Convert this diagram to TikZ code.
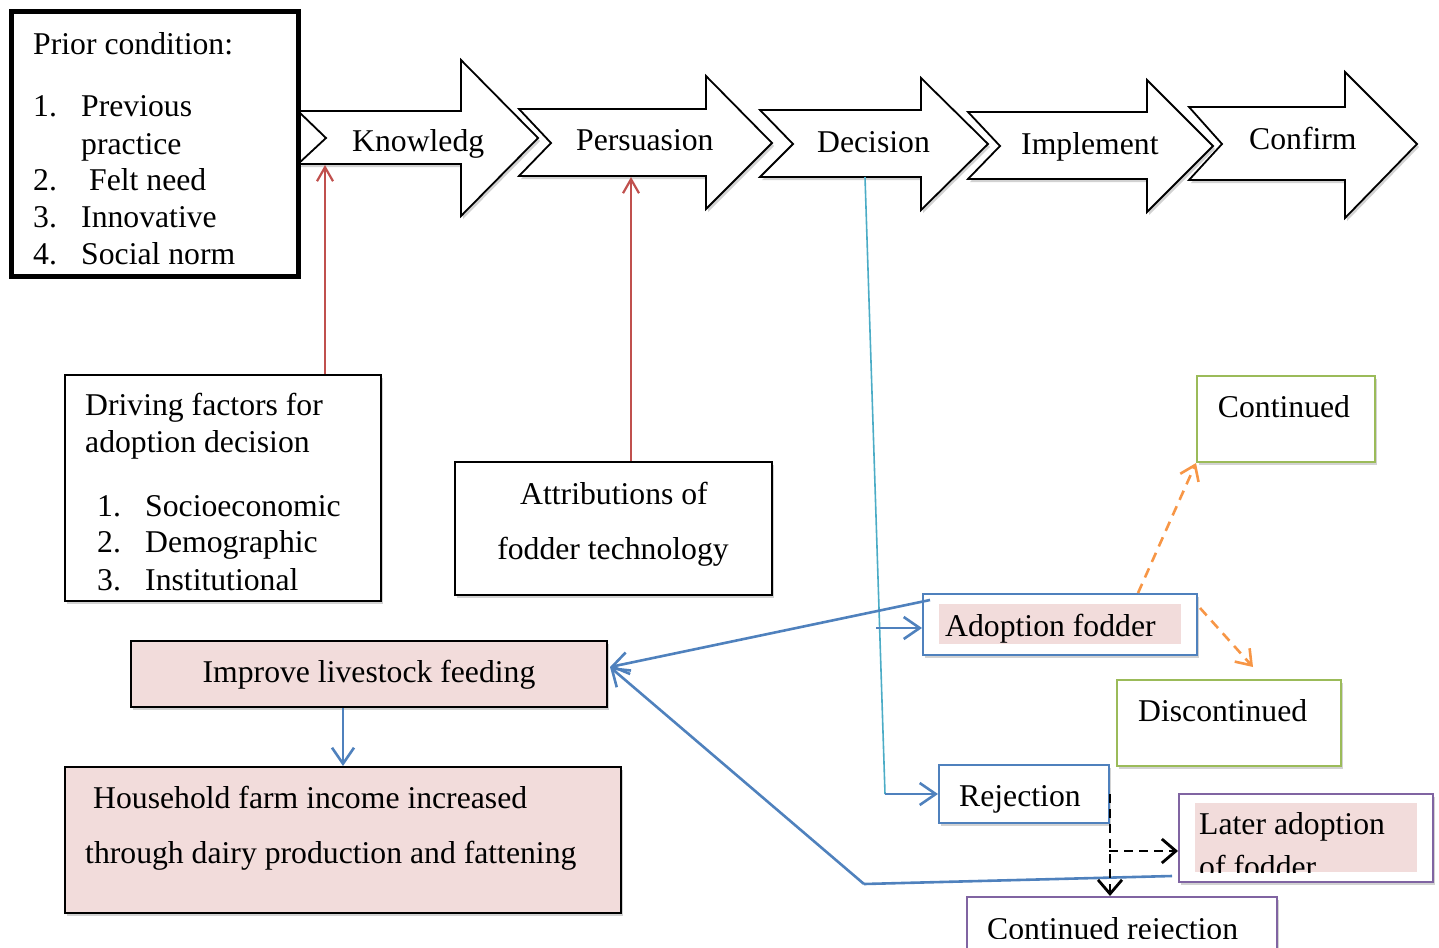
\documentclass[tikz,border=0pt]{standalone}
\usepackage{fontspec}
\setmainfont{Liberation Serif}
\usetikzlibrary{arrows.meta,fit,shadows,calc}
\definecolor{pinkfill}{HTML}{F2DCDB}
\definecolor{blueline}{HTML}{4F81BD}
\definecolor{cyanline}{HTML}{4BACC6}
\definecolor{redline}{HTML}{C0504D}
\definecolor{greenline}{HTML}{9BBB59}
\definecolor{purpleline}{HTML}{8064A2}
\definecolor{orangeline}{HTML}{F79646}
\tikzset{
  txt/.style={inner sep=0pt, anchor=base west, font=\fontsize{31.7}{37}\selectfont},
  ctxt/.style={inner sep=0pt, anchor=base, font=\fontsize{31.7}{37}\selectfont},
  shad/.style={drop shadow={shadow xshift=2pt, shadow yshift=-3pt, fill=black!35, opacity=0.5}},
  boxbase/.style={inner sep=0pt, fill=white, shad},
  blackbox/.style={boxbase, draw=black, line width=2pt},
  priorbox/.style={boxbase, draw=black, line width=5pt},
  pinkbox/.style={boxbase, draw=black, line width=2pt, fill=pinkfill},
  bluebox/.style={boxbase, draw=blueline, line width=2pt},
  greenbox/.style={boxbase, draw=greenline, line width=2pt},
  purplebox/.style={boxbase, draw=purpleline, line width=2pt},
  chevstyle/.style={draw=black, line width=1.8pt, fill=white, line join=miter, shad},
  barb/.style={-{Straight Barb[length=16pt, width=22pt]}},
  redarr/.style={draw=redline, line width=2.2pt, -{Straight Barb[length=14pt, width=16pt]}},
  bluearr/.style={draw=blueline, line width=2.6pt, barb},
  bluel/.style={draw=blueline, line width=2.6pt},
  cyanl/.style={draw=cyanline, line width=1.6pt},
  orangearr/.style={draw=orangeline, line width=2.6pt, dash pattern=on 10pt off 7pt, -{Straight Barb[length=14pt, width=20pt]}},
  blackdash/.style={draw=black, line width=2.8pt, dash pattern=on 9pt off 6pt, -{Straight Barb[length=14pt, width=24pt]}},
}
\newcommand\chevarrow[9]{%
  \path[chevstyle] (#1,#3) -- (#5,#3) -- (#5,#6) -- (#8,#9) -- (#5,#7) -- (#5,#4) -- (#1,#4) -- (#2,#9) -- cycle;}
\begin{document}
\begin{tikzpicture}[x=1pt, y=-1pt]
\useasboundingbox (0,0) rectangle (1439,947);
\clip (0,0) rectangle (1439,947);

% chevron process arrows
\chevarrow{298}{326}{111}{164}{461}{60}{216}{538}{138}
\chevarrow{519}{551}{109}{176}{706}{76}{209}{772}{143}
\chevarrow{760}{793}{110}{177}{921}{78}{210}{988}{144}
\chevarrow{968}{1000}{112}{179}{1147}{80}{212}{1213}{146}
\chevarrow{1189}{1222}{107}{180}{1345}{72}{218}{1417}{144}
\node[txt] (know) at (352,151) {Knowledg};
\node[txt] (pers) at (576,150) {Persuasion};
\node[txt] (deci) at (817,152) {Decision};
\node[txt] (impl) at (1021,154) {Implement};
\node[txt] (conf) at (1249,149) {Confirm};
\coordinate (kb) at (325,165);
\coordinate (pb) at (631,177);
\coordinate (db) at (865,177);

% prior condition box
\node[priorbox, fit={(11,12) (298,276)}] (prior) {};
\node[txt] (p0) at (33,55) {Prior condition:};
\node[txt] (p1n) at (33,117) {1.};
\node[txt] (p1) at (81,117) {Previous};
\node[txt] (p1b) at (81,154) {practice};
\node[txt] (p2n) at (33,190) {2.};
\node[txt] (p2) at (89,190) {Felt need};
\node[txt] (p3n) at (33,227) {3.};
\node[txt] (p3) at (81,227) {Innovative};
\node[txt] (p4n) at (33,264) {4.};
\node[txt] (p4) at (81,264) {Social norm};

% driving factors
\node[blackbox, fit={(65,375) (381,601)}] (drv) {};
\node[txt] (d0) at (85,415) {Driving factors for};
\node[txt] (d0b) at (85,452) {adoption decision};
\node[txt] (d1n) at (97,516) {1.};
\node[txt] (d1) at (145,516) {Socioeconomic};
\node[txt] (d2n) at (97,552) {2.};
\node[txt] (d2) at (145,552) {Demographic};
\node[txt] (d3n) at (97,590) {3.};
\node[txt] (d3) at (145,590) {Institutional};

% attributions
\node[blackbox, fit={(455,462) (772,595)}] (att) {};
\node[ctxt] (a1) at (614,504) {Attributions of};
\node[ctxt] (a2) at (613,559) {fodder technology};

% improve livestock feeding
\node[pinkbox, fit={(131,641) (607,707)}] (imp) {};
\node[ctxt] (i1) at (369,682) {Improve livestock feeding};

% household
\node[pinkbox, fit={(65,767) (621,913)}] (hh) {};
\node[txt] (h1) at (93,808) {Household farm income increased};
\node[txt] (h2) at (85,863) {through dairy production and fattening};

% adoption fodder
\node[bluebox, fit={(923,594) (1197,655)}] (ado) {};
\fill[pinkfill] (939,604) rectangle (1181,644);
\node[txt] (ad1) at (945,636) {Adoption fodder};

% continued / discontinued
\node[greenbox, fit={(1197,376) (1375,462)}] (cont) {};
\node[ctxt] (c1) at (1284,417) {Continued};
\node[greenbox, fit={(1117,680) (1341,766)}] (disc) {};
\node[txt] (dc1) at (1138,721) {Discontinued};

% rejection
\node[bluebox, fit={(939,765) (1109,823)}] (rej) {};
\node[txt] (r1) at (959,806) {Rejection};

% later adoption
\node[purplebox, fit={(1179,794) (1433,882)}] (lat) {};
\fill[pinkfill] (1195,803) rectangle (1417,872);
\begin{scope}
\clip (1190,800) rectangle (1420,872);
\node[txt] (l1) at (1199,834) {Later adoption};
\node[txt] (l2) at (1199,877) {of fodder};
\end{scope}

% continued rejection
\node[purplebox, fit={(967,897) (1277,975)}] (cr) {};
\begin{scope}
\clip (970,900) rectangle (1274,938);
\node[txt] (cr1) at (987,939) {Continued rejection};
\end{scope}

% connectors
\draw[redarr] (drv.north -| kb) -- (kb);
\draw[redarr] (att.north -| pb) -- (pb);
\draw[bluearr] (imp.south -| 343,0) -- (hh.north -| 343,0);

\coordinate (dj) at (885,794);
\coordinate (aj) at (876,628);
\draw[cyanl] (db) -- (dj);
\draw[bluearr] (dj) -- (rej.west);
\draw[bluearr] (aj) -- (aj -| ado.west);

\draw[bluearr] ([xshift=8pt,yshift=-7pt]ado.north west) -- ([xshift=2pt,yshift=7pt]imp.east);
\coordinate (lb) at (864,884);
\draw[bluel] ([xshift=-6pt,yshift=7pt]lat.south west) -- (lb);
\draw[bluearr] (lb) -- ([xshift=2pt,yshift=7pt]imp.east);

\draw[orangearr] ([xshift=78pt]ado.north) -- (cont.south west);
\draw[orangearr] ([xshift=2pt,yshift=-15pt]ado.north east) -- ([xshift=24pt,yshift=12pt]disc.north);

\coordinate (br) at (1109,851);
\draw[blackdash] (rej.east) -- (rej.east |- cr.north);
\draw[blackdash] (br) -- (br -| lat.west);
\end{tikzpicture}
\end{document}
